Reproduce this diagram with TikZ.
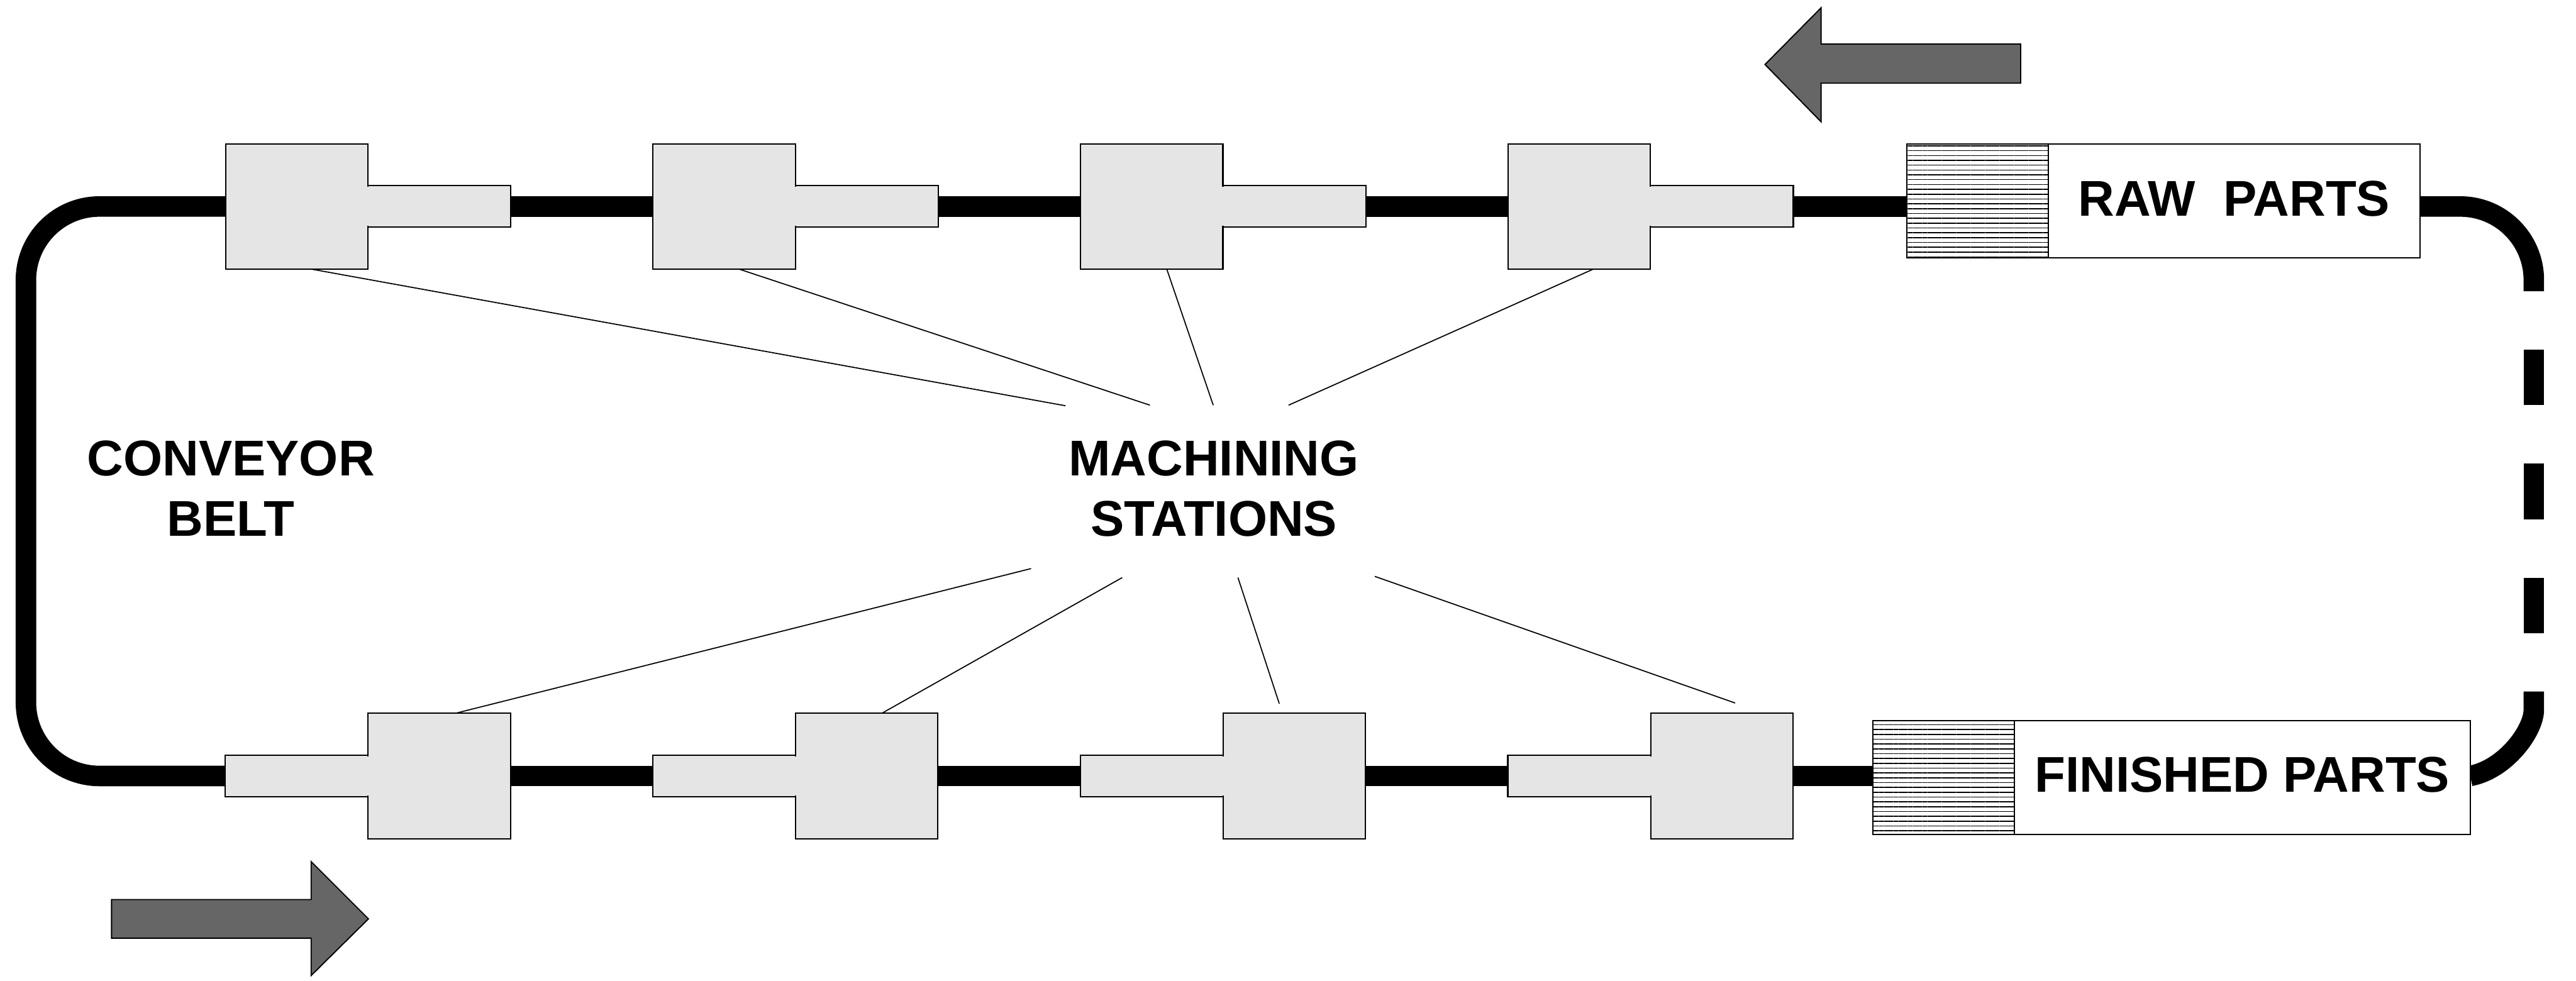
\documentclass[tikz,border=0pt]{standalone}
\usepackage{fontspec}
\setmainfont{Liberation Sans}
\usetikzlibrary{positioning, patterns.meta, backgrounds}

\begin{document}
\begin{tikzpicture}
        [every node/.style={inner sep=0pt, outer sep=0pt},
        body/.style={rectangle, fill=black!10, minimum width=2.36cm, minimum height=2.08cm},
        tailpiece/.style={rectangle, draw=black, line width=0.022cm, fill=black!10, minimum width=2.37cm, minimum height=0.69cm},
        bodyline/.style={rectangle, draw=black, line width=0.022cm},
        seam/.style={draw=black!10, line width=0.044cm, shorten >=0.022cm, shorten <=0.022cm},
        hatch/.style={rectangle, draw=black, line width=0.022cm, minimum height=1.89cm, minimum width=2.35cm, pattern={Lines[angle=0, distance=0.08cm, line width=0.017cm]}},
        store/.style={rectangle, draw=black, line width=0.022cm, fill=white, minimum height=1.89cm, font=\bfseries\fontsize{23.7}{28.45}\selectfont, text depth=0.09cm},
        title/.style={font=\bfseries\fontsize{23.7}{28.45}\selectfont, align=center},
        belt/.style={line width=0.34cm, draw=black},
        lead/.style={draw=black, line width=0.018cm},
        flow/.style={draw=black, line width=0.02cm, fill=black!60, line join=miter}]
        \useasboundingbox (0, 0) rectangle (42.72, 16.26);
        \node (A1) at (4.92, 12.835) [body, bodyline] {};
        \node (A2) at (12.01, 12.835) [body, bodyline] {};
        \node (A3) at (19.10, 12.835) [body, bodyline] {};
        \node (A4) at (26.19, 12.835) [body, bodyline] {};
        \node (a1) [tailpiece, right=0pt of A1] {};
        \node (a2) [tailpiece, right=0pt of A2] {};
        \node (a3) [tailpiece, right=0pt of A3] {};
        \node (a4) [tailpiece, right=0pt of A4] {};
        \path (a1.north west) edge[seam] (a1.south west);
        \path (a2.north west) edge[seam] (a2.south west);
        \path (a3.north west) edge[seam] (a3.south west);
        \path (a4.north west) edge[seam] (a4.south west);
        \node (B1) at (7.285, 3.39) [body, bodyline] {};
        \node (B2) at (14.375, 3.39) [body, bodyline] {};
        \node (B3) at (21.465, 3.39) [body, bodyline] {};
        \node (B4) at (28.555, 3.39) [body, bodyline] {};
        \node (b1) [tailpiece, left=0pt of B1] {};
        \node (b2) [tailpiece, left=0pt of B2] {};
        \node (b3) [tailpiece, left=0pt of B3] {};
        \node (b4) [tailpiece, left=0pt of B4] {};
        \path (b1.north east) edge[seam] (b1.south east);
        \path (b2.north east) edge[seam] (b2.south east);
        \path (b3.north east) edge[seam] (b3.south east);
        \path (b4.north east) edge[seam] (b4.south east);
        \node (HR) at (32.795, 12.925) [hatch] {};
        \node (RP) [store, right=0pt of HR, minimum width=6.16cm] {RAW\ \ PARTS};
        \node (HF) at (32.23, 3.365) [hatch] {};
        \node (FP) [store, right=0pt of HF, minimum width=7.56cm] {FINISHED PARTS};
        \node (CB) at (3.83, 8.16) [title] {CONVEYOR\\BELT};
        \node (MS) at (20.13, 8.16) [title] {MACHINING\\STATIONS};
        \coordinate (LT) at (0.43, 12.835);
        \coordinate (LB) at (0.43, 3.39);
        \coordinate (RT) at (42.02, 12.835);
        \coordinate (RE) at (42.02, 11.43);
        \coordinate (DT) at (42.02, 10.46);
        \coordinate (DB) at (42.02, 5.76);
        \coordinate (RS) at (42.02, 4.79);
        \begin{scope}[on background layer]
        \path[belt] (a1.east) -- (A2.west);
        \path[belt] (a2.east) -- (A3.west);
        \path[belt] (a3.east) -- (A4.west);
        \path[belt] (a4.east) -- (a4.east -| HR.west);
        \path[belt] (B1.east) -- (b2.west);
        \path[belt] (B2.east) -- (b3.west);
        \path[belt] (B3.east) -- (b4.west);
        \path[belt] (B4.east) -- (B4.east -| HF.west);
        \path[belt, rounded corners=1.22cm] (A1.west) -- (LT) -- (LB) -- (b1.west);
        \path[belt, rounded corners=1.22cm] (a4.east -| RP.east) -- (RT) -- (RE);
        \path[belt, dash pattern=on 0.92cm off 0.97cm] (DT) -- (DB);
        \path[belt] (RS) -- ++(0, -0.3) .. controls +(0, -0.35) and (41.55, 3.50) .. (FP.east |- B4.east);
        \end{scope}
        \coordinate (m1) at (17.67, 9.53);
        \coordinate (m2) at (19.07, 9.54);
        \coordinate (m3) at (20.12, 9.54);
        \coordinate (m4) at (21.37, 9.54);
        \coordinate (m5) at (17.10, 6.83);
        \coordinate (m6) at (18.61, 6.68);
        \coordinate (m7) at (20.53, 6.68);
        \coordinate (m8) at (22.80, 6.70);
        \path (A1.south) ++(0.25, 0) edge[lead] (m1);
        \path (A2.south) ++(0.25, 0) edge[lead] (m2);
        \path (A3.south) ++(0.25, 0) edge[lead] (m3);
        \path (A4.south) ++(0.23, 0) edge[lead] (m4);
        \path (B1.north) ++(0.27, 0) edge[lead] (m5);
        \path (B2.north) ++(0.25, 0) edge[lead] (m6);
        \path (B3.north) ++(-0.25, 0.16) edge[lead] (m7);
        \path (B4.north) ++(0.22, 0.17) edge[lead] (m8);
        \draw[flow] (29.27, 15.19) -- (30.20, 16.13) -- (30.20, 15.53) -- (33.51, 15.53) -- (33.51, 14.88) -- (30.20, 14.88) -- (30.20, 14.24) -- cycle;
        \draw[flow] (1.85, 1.34) -- (5.16, 1.34) -- (5.16, 1.97) -- (6.11, 1.02) -- (5.16, 0.08) -- (5.16, 0.70) -- (1.85, 0.70) -- cycle;
\end{tikzpicture}
\end{document}
